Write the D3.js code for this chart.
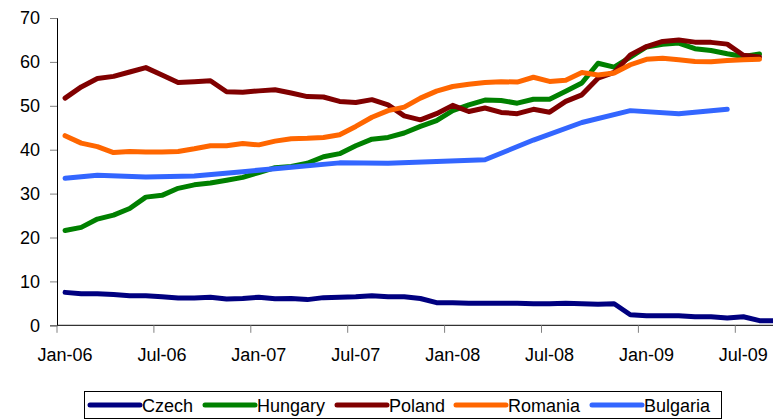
<!DOCTYPE html>
<html>
<head>
<meta charset="utf-8">
<script src="https://cdn.jsdelivr.net/npm/d3@7"></script>
<style>
  html, body { margin: 0; padding: 0; background: #fff; overflow: hidden; }
  svg { display: block; font-family: "Liberation Sans", Arial, sans-serif; }
</style>
</head>
<body>
<svg id="chart" width="773" height="419"></svg>
<script>
// months Jan-06 .. Sep-09
var months = [];
(function() {
    var names = ["Jan","Feb","Mar","Apr","May","Jun","Jul","Aug","Sep","Oct","Nov","Dec"];
    for (var yr = 6; yr <= 9; yr++) {
        for (var m = 0; m < 12; m++) {
            if (yr == 9 && m > 8) break;
            months.push(names[m] + "-0" + yr);
        }
    }
})();

var tickLabels = ["Jan-06","Jul-06","Jan-07","Jul-07","Jan-08","Jul-08","Jan-09","Jul-09"];
var yTicks = [0, 10, 20, 30, 40, 50, 60, 70];

var czech = [7.5, 7.2, 7.2, 7.0, 6.75, 6.75, 6.5, 6.2, 6.2,
             6.4, 6.0, 6.1, 6.4, 6.05, 6.1, 5.85, 6.3, 6.4,
             6.5, 6.75, 6.5, 6.5, 6.1, 5.15, 5.15, 5.0, 5.0,
             5.0, 5.0, 4.9, 4.9, 5.0, 4.9, 4.8, 4.9, 2.4,
             2.2, 2.15, 2.15, 1.95, 1.95, 1.65, 1.95, 1.05, 1.05];

var hungary = [21.6, 22.3, 24.2, 25.1, 26.6, 29.2, 29.6, 31.2, 32.0,
               32.4, 33.05, 33.7, 34.8, 35.9, 36.2, 36.9, 38.4, 39.1,
               40.9, 42.4, 42.8, 43.8, 45.3, 46.6, 48.9, 50.2, 51.3,
               51.2, 50.6, 51.5, 51.5, 53.3, 55.2, 59.7, 58.8, 61.1,
               63.4, 64.0, 64.3, 63.0, 62.6, 61.85, 61.25, 61.8];

var poland = [51.75, 54.3, 56.2, 56.7, 57.7, 58.7, 57.0, 55.3, 55.5,
              55.7, 53.2, 53.1, 53.4, 53.65, 52.9, 52.1, 52.0, 51.0,
              50.75, 51.4, 50.2, 47.7, 46.8, 48.2, 50.1, 48.7, 49.5,
              48.5, 48.2, 49.2, 48.55, 51.0, 52.5, 56.3, 57.6, 61.6,
              63.5, 64.65, 65.0, 64.5, 64.45, 64.05, 61.5, 61.1];

var romania = [43.2, 41.5, 40.7, 39.35, 39.6, 39.5, 39.5, 39.6, 40.2,
               40.9, 40.9, 41.4, 41.1, 41.95, 42.5, 42.6, 42.8, 43.4,
               45.3, 47.4, 48.9, 49.7, 51.75, 53.35, 54.4, 54.9, 55.3,
               55.5, 55.4, 56.5, 55.55, 55.8, 57.6, 57.0, 57.45, 59.35,
               60.6, 60.85, 60.5, 60.1, 60.05, 60.3, 60.5, 60.6];

// bulgaria only reported some months, gaps are joined
var bulgaria = [33.5, null, 34.2, null, null, 33.8, null, null, 34.0,
                null, null, 35.0, null, null, 36.0, null, null, 37.0,
                null, null, 36.9, null, null, 37.3, null, null, 37.7,
                null, null, 42.2, null, null, 46.2, null, null, 48.9,
                null, null, 48.2, null, null, 49.2];

var seriesNames = ["Czech", "Hungary", "Poland", "Romania", "Bulgaria"];
var seriesColors = ["#000080", "#008000", "#800000", "#ff6600", "#3366ff"];
var seriesValues = [czech, hungary, poland, romania, bulgaria];

(function() {
    var svg = d3.select("#chart");

    var plotLeft = 57, plotTop = 18, plotBottom = 325.3;
    var step = 16.15;

    var x = d3.scaleBand()
        .domain(months)
        .range([plotLeft, plotLeft + step * months.length]);

    var y = d3.scaleLinear()
        .domain([0, 70])
        .range([plotBottom, plotTop]);

    // y axis
    var yAxis = d3.axisLeft(y)
        .tickValues(yTicks)
        .tickSize(7)
        .tickPadding(10)
        .tickFormat(d3.format("d"));

    var gy = svg.append("g")
        .attr("transform", "translate(" + plotLeft + ",0)")
        .call(yAxis);
    gy.select(".domain").attr("stroke", "#000");
    gy.selectAll(".tick line").attr("stroke", "#808080");
    gy.selectAll(".tick text")
        .attr("font-size", 18)
        .attr("fill", "#000")
        .attr("font-family", "Liberation Sans, Arial, sans-serif");

    // x axis (ticks sit between categories, labels on them)
    svg.append("line")
        .attr("x1", plotLeft).attr("x2", 773)
        .attr("y1", plotBottom).attr("y2", plotBottom)
        .attr("stroke", "#000");

    svg.selectAll(".xtick")
        .data(tickLabels)
        .enter().append("line")
        .attr("class", "xtick")
        .attr("x1", function(d) { return x(d); })
        .attr("x2", function(d) { return x(d); })
        .attr("y1", plotBottom)
        .attr("y2", plotBottom + 7.5)
        .attr("stroke", "#808080");

    svg.selectAll(".xlabel")
        .data(tickLabels)
        .enter().append("text")
        .attr("class", "xlabel")
        .attr("x", function(d) { return x(d) + x.bandwidth() / 2; })
        .attr("y", 361)
        .attr("text-anchor", "middle")
        .attr("font-size", 18)
        .text(function(d) { return d; });

    // lines
    var line = d3.line()
        .x(function(d) { return x(d.m) + x.bandwidth() / 2; })
        .y(function(d) { return y(d.v); });

    seriesValues.forEach(function(vals, k) {
        var pts = [];
        for (var i = 0; i < vals.length; i++) {
            if (vals[i] != null) pts.push({m: months[i], v: vals[i]});
        }
        svg.append("path")
            .datum(pts)
            .attr("d", line)
            .attr("fill", "none")
            .attr("stroke", seriesColors[k])
            .attr("stroke-width", 5)
            .attr("stroke-linejoin", "round")
            .attr("stroke-linecap", "round");
    });

    // legend
    var legend = svg.append("g");
    legend.append("rect")
        .attr("x", 84.5).attr("y", 391.5)
        .attr("width", 637).attr("height", 27)
        .attr("fill", "#fff")
        .attr("stroke", "#000");

    var legX = [90, 205, 337, 456, 592];
    seriesNames.forEach(function(name, k) {
        legend.append("line")
            .attr("x1", legX[k]).attr("x2", legX[k] + 50)
            .attr("y1", 405).attr("y2", 405)
            .attr("stroke", seriesColors[k])
            .attr("stroke-width", 5)
            .attr("stroke-linecap", "round");
        legend.append("text")
            .attr("x", legX[k] + 52)
            .attr("y", 411.5)
            .attr("font-size", 18)
            .text(name);
    });
})();
</script>
</body>
</html>
